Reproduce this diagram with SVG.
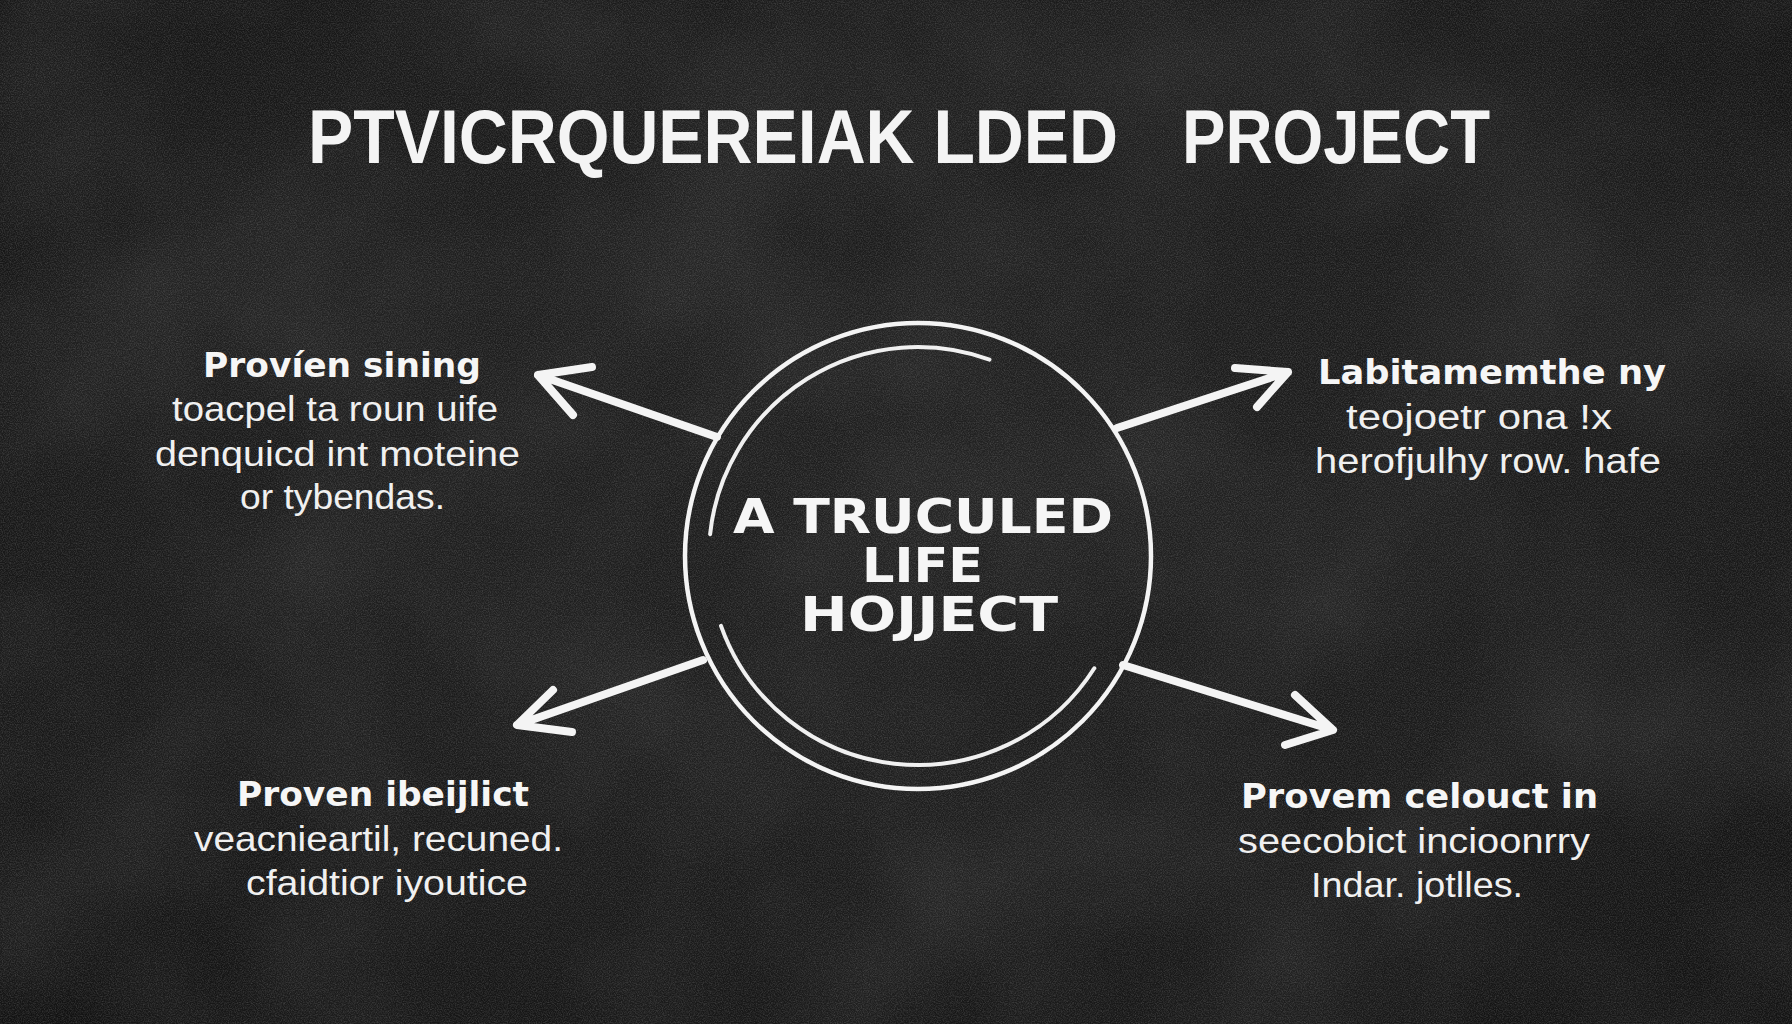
<svg xmlns="http://www.w3.org/2000/svg" width="1792" height="1024" viewBox="0 0 1792 1024">
  <style>
    .title { font-family: "Liberation Sans", Arial, sans-serif; font-weight: 700; font-size: 76px; fill: #f4f4f4; }
    .hub { font-family: "DejaVu Sans", "Liberation Sans", sans-serif; font-weight: 700; font-size: 48px; fill: #f6f6f6; }
    .head { font-family: "DejaVu Sans", "Liberation Sans", sans-serif; font-weight: 700; font-size: 33px; fill: #f6f6f6; }
    .body { font-family: "Liberation Sans", Arial, sans-serif; font-size: 35px; fill: #f0f0f0; }
    .ring { fill: none; stroke: #f4f4f4; stroke-width: 4.5; }
    .arc { fill: none; stroke: #f0f0f0; stroke-width: 4; stroke-linecap: round; }
    .arrow { fill: none; stroke: #f4f4f4; stroke-width: 8; stroke-linecap: round; stroke-linejoin: round; }
  </style>
  <defs>
    <radialGradient id="bg" cx="50%" cy="45%" r="75%">
      <stop offset="0" stop-color="#1f1f1f"/>
      <stop offset="0.6" stop-color="#1a1a1a"/>
      <stop offset="1" stop-color="#111111"/>
    </radialGradient>
    <filter id="grain" x="0" y="0" width="100%" height="100%">
      <feTurbulence type="fractalNoise" baseFrequency="0.85" numOctaves="2" seed="7" result="n"/>
      <feColorMatrix in="n" type="matrix" values="0 0 0 0 1  0 0 0 0 1  0 0 0 0 1  0.3 0 0 0 -0.11"/>
    </filter>
    <filter id="blotch" x="0" y="0" width="100%" height="100%">
      <feTurbulence type="fractalNoise" baseFrequency="0.005" numOctaves="3" seed="11" result="n"/>
      <feColorMatrix in="n" type="matrix" values="0 0 0 0 1  0 0 0 0 1  0 0 0 0 1  0.1 0 0 0 -0.035"/>
    </filter>
  </defs>

  <rect width="1792" height="1024" fill="url(#bg)"/>
  <rect width="1792" height="1024" filter="url(#blotch)"/>
  <rect width="1792" height="1024" filter="url(#grain)"/>

  <g id="title">
    <text class="title" x="308" y="163" textLength="810" lengthAdjust="spacingAndGlyphs">PTVICRQUEREIAK LDED</text>
    <text class="title" x="1182" y="163" textLength="308" lengthAdjust="spacingAndGlyphs">PROJECT</text>
  </g>

  <g id="connectors">
    <path class="arrow" d="M717,437 L538,375 M592,367 L538,375 L573,415"/>
    <path class="arrow" d="M1117,428 L1288,372 M1235,368 L1288,372 L1257,407"/>
    <path class="arrow" d="M703,660 L517,725 M553,690 L517,725 L572,732"/>
    <path class="arrow" d="M1123,665 L1333,730 M1295,695 L1333,730 L1285,745"/>
  </g>

  <g id="hub">
    <circle class="ring" cx="918" cy="556" r="233"/>
    <path class="arc" d="M710.1,534.2 A209,209 0 0 1 989.5,359.6"/>
    <path class="arc" d="M721,625.8 A209,209 0 0 0 1094.3,668.3"/>
    <text class="hub" x="733" y="533" textLength="380" lengthAdjust="spacingAndGlyphs">A TRUCULED</text>
    <text class="hub" x="862" y="582" textLength="121" lengthAdjust="spacingAndGlyphs">LIFE</text>
    <text class="hub" x="800" y="631" textLength="258" lengthAdjust="spacingAndGlyphs">HOJJECT</text>
  </g>

  <g id="node-top-left">
    <text class="head" x="203" y="377" textLength="278" lengthAdjust="spacingAndGlyphs">Províen sining</text>
    <text class="body" x="172" y="421" textLength="326" lengthAdjust="spacingAndGlyphs">toacpel ta roun uife</text>
    <text class="body" x="155" y="466" textLength="365" lengthAdjust="spacingAndGlyphs">denquicd int moteine</text>
    <text class="body" x="240" y="509" textLength="205" lengthAdjust="spacingAndGlyphs">or tybendas.</text>
  </g>

  <g id="node-top-right">
    <text class="head" x="1318" y="384" textLength="348" lengthAdjust="spacingAndGlyphs">Labitamemthe ny</text>
    <text class="body" x="1346" y="429" textLength="266" lengthAdjust="spacingAndGlyphs">teojoetr ona !x</text>
    <text class="body" x="1315" y="473" textLength="346" lengthAdjust="spacingAndGlyphs">herofjulhy row. hafe</text>
  </g>

  <g id="node-bottom-left">
    <text class="head" x="237" y="806" textLength="292" lengthAdjust="spacingAndGlyphs">Proven ibeijlict</text>
    <text class="body" x="194" y="851" textLength="369" lengthAdjust="spacingAndGlyphs">veacnieartil, recuned.</text>
    <text class="body" x="246" y="895" textLength="282" lengthAdjust="spacingAndGlyphs">cfaidtior iyoutice</text>
  </g>

  <g id="node-bottom-right">
    <text class="head" x="1241" y="808" textLength="357" lengthAdjust="spacingAndGlyphs">Provem celouct in</text>
    <text class="body" x="1238" y="853" textLength="352" lengthAdjust="spacingAndGlyphs">seecobict incioonrry</text>
    <text class="body" x="1311" y="897" textLength="212" lengthAdjust="spacingAndGlyphs">Indar. jotlles.</text>
  </g>
</svg>
